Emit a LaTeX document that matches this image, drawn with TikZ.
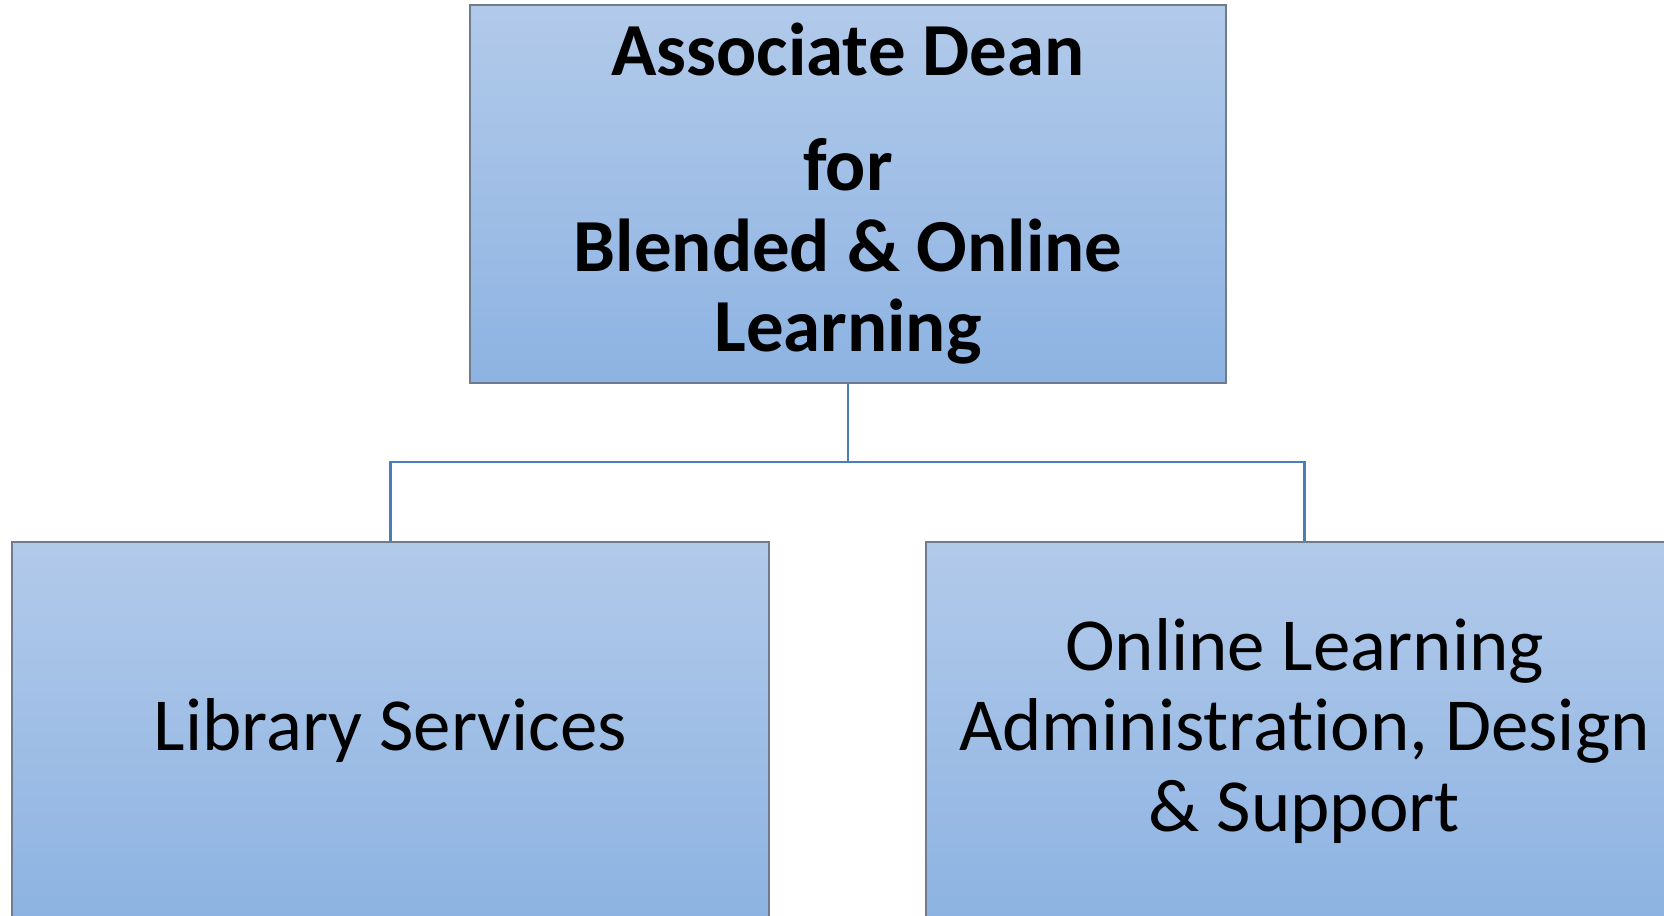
\documentclass[tikz,border=0pt]{standalone}
\usepackage{fontspec}
\setmainfont[Ligatures=NoCommon]{Carlito}
\definecolor{boxtop}{RGB}{178,202,234}
\definecolor{boxbot}{RGB}{141,179,226}
\definecolor{boxline}{RGB}{112,124,142}
\definecolor{wireblue}{RGB}{74,126,187}
\tikzset{
  unitbox/.style={rectangle, draw=boxline, line width=0.6pt,
    top color=boxtop, bottom color=boxbot, align=center,
    minimum width=7.56cm, minimum height=3.78cm, inner sep=0pt,
    font=\fontsize{21.3}{23}\selectfont},
  link/.style={draw=wireblue, line width=0.7pt}
}
\begin{document}
\begin{tikzpicture}[x=0.01cm, y=-0.01cm]
    \path[use as bounding box, clip] (0,0) rectangle (1664,915);
    \node[unitbox] (dean) at (848,194) {\textbf{Associate Dean}\\[9.5pt]
      \textbf{for}\\ \textbf{Blended \& Online}\\ \textbf{Learning}};
    \node[unitbox] (lib) at (390.5,731) {Library Services};
    \node[unitbox] (ola) at (1304.5,731) {Online Learning\\
      Administration, Design\\ \& Support};
    \coordinate (bus) at (848,462);
    \draw[link] (dean.south) -- (bus) -| (lib.north);
    \draw[link] (bus) -| (ola.north);
\end{tikzpicture}
\end{document}
